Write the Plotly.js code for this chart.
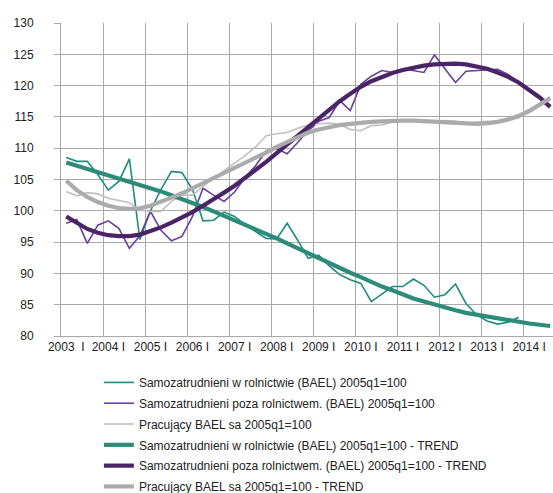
<!DOCTYPE html>
<html>
<head>
<meta charset="utf-8">
<script src="https://cdn.plot.ly/plotly-3.0.1.min.js"></script>
<style>html,body{margin:0;padding:0;background:#fff;}#chart{width:553px;height:493px;}</style>
</head>
<body>
<div id="chart"></div>
<script>
// Quarterly categories 2003 I .. 2014 III
var quarterLabels = [
  "2003 I","2003 II","2003 III","2003 IV",
  "2004 I","2004 II","2004 III","2004 IV",
  "2005 I","2005 II","2005 III","2005 IV",
  "2006 I","2006 II","2006 III","2006 IV",
  "2007 I","2007 II","2007 III","2007 IV",
  "2008 I","2008 II","2008 III","2008 IV",
  "2009 I","2009 II","2009 III","2009 IV",
  "2010 I","2010 II","2010 III","2010 IV",
  "2011 I","2011 II","2011 III","2011 IV",
  "2012 I","2012 II","2012 III","2012 IV",
  "2013 I","2013 II","2013 III","2013 IV",
  "2014 I","2014 II","2014 III"
];
var tickLabels = ["2003\u00A0 I","2004 I","2005 I","2006 I","2007 I","2008 I","2009 I","2010 I","2011 I","2012 I","2013 I","2014 I"];

var seriesNames = [
  "Samozatrudnieni w rolnictwie (BAEL) 2005q1=100",
  "Samozatrudnieni poza rolnictwem. (BAEL) 2005q1=100",
  "Pracujący BAEL sa 2005q1=100",
  "Samozatrudnieni w rolnictwie (BAEL) 2005q1=100 - TREND",
  "Samozatrudnieni poza rolnictwem. (BAEL) 2005q1=100 - TREND",
  "Pracujący BAEL sa 2005q1=100 - TREND"
];

var rolnRaw = [108.5, 107.9, 107.9, 105.8, 103.3, 104.7, 108.3, 95.4, 100.0, 103.4, 106.3, 106.1, 103.4, 98.4, 98.5, 99.8, 99.1, 97.8, 96.7, 95.6, 95.5, 98.0, 95.3, 92.4, 92.9, 91.2, 89.8, 89.0, 88.4, 85.5, 86.7, 87.9, 87.9, 89.1, 88.1, 86.2, 86.6, 88.3, 85.2, 83.4, 82.4, 81.9, 82.2, 83.0];
var pozaRaw = [98.0, 98.6, 94.8, 97.7, 98.4, 97.2, 94.0, 96.0, 99.9, 96.9, 95.2, 95.9, 99.1, 103.6, 102.5, 101.5, 103.0, 105.3, 107.2, 109.6, 109.9, 109.1, 110.9, 112.8, 114.3, 114.9, 117.6, 116.0, 120.2, 121.5, 122.4, 122.1, 122.7, 122.4, 122.1, 124.9, 122.7, 120.5, 122.3, 122.4, 122.6, 122.6, 121.8, 120.6, 119.4, 118.1, 116.6];
var pracRaw = [103.1, 102.4, 102.9, 102.7, 102.0, 101.7, 101.3, 100.1, 99.9, 99.9, 101.5, 102.5, 102.5, 103.9, 105.2, 106.4, 107.6, 108.8, 110.2, 112.0, 112.3, 112.5, 113.2, 113.7, 113.9, 114.0, 113.8, 113.0, 112.8, 113.6, 113.7, 114.2, 114.3, 114.5, 114.5, 114.2, 114.4, 114.3, 114.0, 114.1, 114.3, 114.1, 114.7, 115.4, 116.2, 117.1, 118.2];

var rolnTrend = [107.7, 107.2, 106.7, 106.2, 105.7, 105.2, 104.7, 104.2, 103.6, 103.1, 102.5, 101.9, 101.2, 100.6, 99.9, 99.2, 98.5, 97.8, 97.1, 96.3, 95.6, 94.8, 94.0, 93.3, 92.5, 91.7, 90.9, 90.1, 89.4, 88.6, 87.9, 87.3, 86.6, 86.0, 85.5, 85.0, 84.5, 84.1, 83.7, 83.4, 83.1, 82.8, 82.5, 82.3, 82.0, 81.8, 81.6];
var pozaTrend = [99.1, 98.1, 97.1, 96.5, 96.1, 95.95, 95.95, 96.2, 96.7, 97.35, 98.1, 98.9, 99.8, 100.8, 101.8, 102.9, 104.0, 105.2, 106.5, 107.8, 109.2, 110.6, 112.0, 113.4, 114.8, 116.2, 117.5, 118.7, 119.8, 120.7, 121.4, 122.0, 122.5, 122.9, 123.2, 123.4, 123.5, 123.5, 123.4, 123.1, 122.7, 122.1, 121.4, 120.5, 119.4, 118.1, 116.6];
var pracTrend = [104.8, 103.3, 102.2, 101.4, 100.8, 100.45, 100.3, 100.4, 100.8, 101.4, 102.1, 102.8, 103.6, 104.4, 105.2, 106.0, 106.8, 107.6, 108.4, 109.3, 110.2, 111.0, 111.8, 112.5, 113.0, 113.4, 113.7, 113.9, 114.1, 114.2, 114.3, 114.4, 114.4, 114.4, 114.3, 114.2, 114.1, 114.0, 113.9, 113.9, 114.0, 114.2, 114.6, 115.1, 115.9, 116.9, 118.0];

var xIdx = quarterLabels.map(function (_, i) { return i; });
var tickIdx = [];
quarterLabels.forEach(function (q, i) { if (/ I$/.test(q)) tickIdx.push(i); });

var colors = ["#1E8C7E", "#6A3E9C", "#C0C0C0", "#2E8B78", "#4A2466", "#ABABAB"];
var widths = [1.6, 1.6, 1.6, 4.2, 4.2, 4.2];
var values = [rolnRaw, pozaRaw, pracRaw, rolnTrend, pozaTrend, pracTrend];

var traces = values.map(function (v, k) {
  return {
    type: "scatter", mode: "lines",
    x: xIdx.slice(0, v.length), y: v,
    name: seriesNames[k],
    legendgroup: "g" + k,
    line: { color: colors[k], width: widths[k] },
    hoverinfo: "skip"
  };
});

var gridC = "#A9A9A9";
var layout = {
  width: 553, height: 493,
  margin: { l: 61, r: 0, t: 23, b: 157, autoexpand: false },
  paper_bgcolor: "#fff", plot_bgcolor: "#fff",
  font: { family: "Liberation Sans, Arial, sans-serif", size: 12, color: "#222" },
  showlegend: true,
  legend: {
    x: 0.077, xanchor: "left", y: -0.102, yanchor: "top",
    traceorder: "grouped", tracegroupgap: 1.8,
    font: { size: 12, color: "#222" }, bgcolor: "rgba(0,0,0,0)"
  },
  xaxis: {
    range: [-0.5, 46.27], showgrid: false, zeroline: false,
    tickmode: "array", tickvals: tickIdx, ticktext: tickLabels,
    ticks: "", showline: true, linecolor: gridC, linewidth: 1,
    tickfont: { size: 12, color: "#222" },
    minor: { tickmode: "linear", tick0: -0.5, dtick: 4, showgrid: true, gridcolor: gridC, gridwidth: 1, ticks: "" },
    fixedrange: true
  },
  yaxis: {
    range: [80, 130], dtick: 5, tick0: 80, showgrid: true, gridcolor: gridC, gridwidth: 1,
    zeroline: false, showline: true, linecolor: gridC, linewidth: 1,
    ticks: "outside", ticklen: 6, tickcolor: gridC, ticklabelstandoff: 18,
    tickfont: { size: 12, color: "#222" }, fixedrange: true
  }
};

Plotly.newPlot("chart", traces, layout, { staticPlot: true, displayModeBar: false });
</script>
</body>
</html>
